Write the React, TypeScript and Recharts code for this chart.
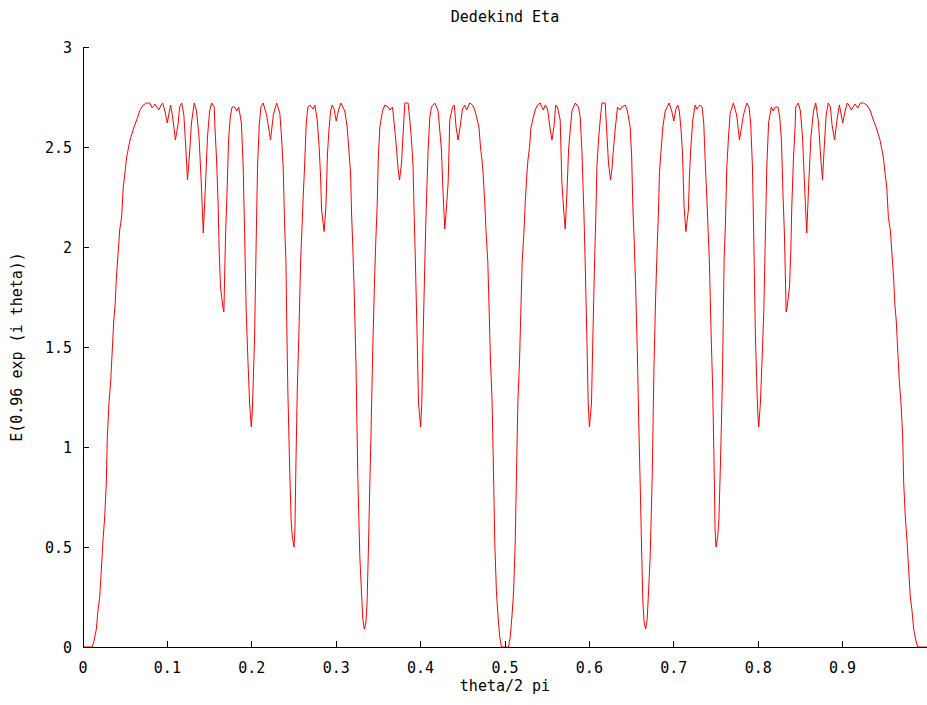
import React from 'react';
import { LineChart, Line, XAxis, YAxis } from 'recharts';

const chartTitle = 'Dedekind Eta';
const xAxisTitle = 'theta/2 pi';
const yAxisTitle = 'E(0.96 exp (i theta))';

const xTicks = [0, 0.1, 0.2, 0.3, 0.4, 0.5, 0.6, 0.7, 0.8, 0.9];
const yTicks = [0, 0.5, 1, 1.5, 2, 2.5, 3];

// theta / 2 pi, left half of the picture (0 .. 0.5)
const thetaLeft = [
  0, 0.006, 0.011, 0.013, 0.0158, 0.0178, 0.0198, 0.0217, 0.0237, 0.0257,
  0.0276, 0.0288, 0.0308, 0.0328, 0.0347, 0.0364, 0.0382, 0.0394, 0.0414, 0.0435,
  0.0458, 0.0477, 0.0497, 0.0517, 0.0557, 0.0596, 0.0636, 0.0675, 0.0714, 0.0754,
  0.079, 0.082, 0.0853, 0.0875, 0.0898, 0.0925, 0.0945, 0.097, 0.0999, 0.102,
  0.1038, 0.1062, 0.1095, 0.1125, 0.1145, 0.117, 0.1195, 0.1215, 0.1238, 0.126,
  0.1285, 0.1318, 0.1345, 0.1375, 0.14, 0.1425, 0.145, 0.1475, 0.15, 0.1524,
  0.1555, 0.1563, 0.1583, 0.1602, 0.1613, 0.1629, 0.1657, 0.1669, 0.1677, 0.1689,
  0.1705, 0.1725, 0.1745, 0.1766, 0.1798, 0.1822, 0.1845, 0.1877, 0.1898, 0.1914,
  0.1933, 0.1954, 0.1974, 0.1994, 0.2005, 0.2013, 0.2033, 0.2052, 0.2068, 0.2088,
  0.2108, 0.2135, 0.2175, 0.2222, 0.2255, 0.2294, 0.2332, 0.2352, 0.2372, 0.2388,
  0.2404, 0.2416, 0.2427, 0.2447, 0.2466, 0.248, 0.25, 0.2511, 0.2523, 0.2539,
  0.2558, 0.2579, 0.2597, 0.2609, 0.2625, 0.2645, 0.2665, 0.2688, 0.2727, 0.2747,
  0.2775, 0.2798, 0.2815, 0.2827, 0.2857, 0.2878, 0.2897, 0.2914, 0.2934, 0.2953,
  0.2975, 0.3, 0.3025, 0.3055, 0.3102, 0.313, 0.3153, 0.317, 0.3182, 0.3197,
  0.3215, 0.3235, 0.3256, 0.328, 0.33, 0.3315, 0.3333, 0.3351, 0.3366, 0.3381,
  0.3398, 0.3414, 0.3432, 0.3452, 0.3469, 0.3485, 0.3499, 0.3517, 0.3549, 0.3576,
  0.3615, 0.3636, 0.3667, 0.3695, 0.3715, 0.3734, 0.375, 0.3774, 0.3793, 0.3813,
  0.3852, 0.3872, 0.3892, 0.3911, 0.3923, 0.3937, 0.3959, 0.3975, 0.4, 0.4014,
  0.403, 0.405, 0.4065, 0.4089, 0.4109, 0.4129, 0.4168, 0.4207, 0.4227, 0.4247,
  0.4263, 0.4286, 0.4302, 0.4326, 0.4346, 0.4378, 0.4399, 0.442, 0.4444, 0.4468,
  0.4496, 0.4523, 0.4546, 0.4583, 0.4615, 0.4642, 0.4669, 0.4693, 0.4709, 0.4728,
  0.474, 0.476, 0.4776, 0.4796, 0.4811, 0.4828, 0.4847, 0.4862, 0.4879, 0.4899,
  0.4918, 0.4938, 0.4958, 0.5,
];

const etaLeft = [
  0, 0, 0, 0.03, 0.09, 0.185, 0.25, 0.385, 0.535, 0.65,
  0.82, 1.05, 1.22, 1.33, 1.485, 1.63, 1.72, 1.835, 1.96, 2.085,
  2.15, 2.3, 2.37, 2.45, 2.535, 2.59, 2.635, 2.685, 2.71, 2.72,
  2.72, 2.695, 2.715, 2.7, 2.685, 2.71, 2.72, 2.68, 2.62, 2.67,
  2.71, 2.65, 2.535, 2.61, 2.7, 2.72, 2.66, 2.52, 2.335, 2.45,
  2.62, 2.72, 2.68, 2.55, 2.33, 2.07, 2.3, 2.55, 2.68, 2.72,
  2.7, 2.6, 2.435, 2.2, 1.99, 1.8, 1.7, 1.675, 1.83, 2.06,
  2.25, 2.535, 2.65, 2.7, 2.7, 2.68, 2.7, 2.62, 2.4, 2.085,
  1.685, 1.435, 1.22, 1.1, 1.17, 1.27, 1.55, 2.035, 2.4, 2.61,
  2.7, 2.72, 2.66, 2.535, 2.66, 2.72, 2.67, 2.55, 2.4, 2.12,
  1.935, 1.57, 1.285, 0.92, 0.635, 0.55, 0.5, 0.585, 0.92, 1.285,
  1.57, 1.935, 2.12, 2.25, 2.4, 2.62, 2.7, 2.71, 2.69, 2.71,
  2.635, 2.5, 2.35, 2.185, 2.077, 2.2, 2.47, 2.585, 2.68, 2.71,
  2.69, 2.63, 2.68, 2.72, 2.68, 2.6, 2.47, 2.37, 2.17, 2.0,
  1.75, 1.4, 0.85, 0.45, 0.27, 0.14, 0.09, 0.12, 0.22, 0.48,
  0.81, 1.1, 1.47, 1.8, 2.03, 2.2, 2.45, 2.6, 2.68, 2.71,
  2.7, 2.685, 2.7, 2.585, 2.49, 2.385, 2.335, 2.42, 2.57, 2.72,
  2.72, 2.635, 2.535, 2.4, 2.17, 1.95, 1.55, 1.22, 1.1, 1.22,
  1.55, 1.92, 2.17, 2.485, 2.65, 2.7, 2.72, 2.68, 2.585, 2.485,
  2.3, 2.09, 2.17, 2.32, 2.635, 2.7, 2.71, 2.6, 2.535, 2.6,
  2.69, 2.71, 2.685, 2.72, 2.71, 2.685, 2.64, 2.595, 2.5, 2.435,
  2.37, 2.225, 2.07, 1.93, 1.7, 1.43, 1.23, 0.91, 0.52, 0.27,
  0.15, 0.05, 0, 0,
];

// right half of the picture (0.5 .. 1)
const thetaRight = [
  0.5042, 0.5062, 0.5082,
  0.5101, 0.5121, 0.5138, 0.5153, 0.5172, 0.5189, 0.5204, 0.5224, 0.524, 0.526,
  0.5272, 0.5291, 0.5307, 0.5331, 0.5358, 0.5385, 0.5417, 0.5454, 0.5477, 0.5504,
  0.5532, 0.5556, 0.558, 0.5601, 0.5622, 0.5654, 0.5674, 0.5698, 0.5714, 0.5737,
  0.5753, 0.5773, 0.5793, 0.5832, 0.5871, 0.5891, 0.5911, 0.5935, 0.595, 0.597,
  0.5986, 0.6, 0.6025, 0.6041, 0.6063, 0.6077, 0.6089, 0.6108, 0.6128, 0.6148,
  0.6187, 0.6207, 0.6226, 0.625, 0.6266, 0.6285, 0.6305, 0.6333, 0.6364, 0.6385,
  0.6424, 0.6451, 0.6483, 0.6501, 0.6515, 0.6531, 0.6548, 0.6568, 0.6586, 0.6602,
  0.6619, 0.6634, 0.6649, 0.6667, 0.6685, 0.67, 0.672, 0.6744, 0.6765, 0.6785,
  0.6803, 0.6818, 0.683, 0.6847, 0.687, 0.6898, 0.6945, 0.6975, 0.7, 0.7025,
  0.7047, 0.7066, 0.7086, 0.7103, 0.7122, 0.7143, 0.7173, 0.7185, 0.7202, 0.7225,
  0.7253, 0.7273, 0.7312, 0.7335, 0.7355, 0.7375, 0.7391, 0.7403, 0.7421, 0.7442,
  0.7461, 0.7477, 0.7489, 0.75, 0.752, 0.7534, 0.7553, 0.7573, 0.7584, 0.7596,
  0.7612, 0.7628, 0.7648, 0.7668, 0.7706, 0.7745, 0.7778, 0.7825, 0.7865, 0.7892,
  0.7912, 0.7932, 0.7948, 0.7967, 0.7987, 0.7995, 0.8006, 0.8026, 0.8046, 0.8067,
  0.8086, 0.8102, 0.8123, 0.8155, 0.8178, 0.8202, 0.8234, 0.8255, 0.8275, 0.8295,
  0.8311, 0.8323, 0.8331, 0.8343, 0.8371, 0.8387, 0.8398, 0.8417, 0.8437, 0.8445,
  0.8476, 0.85, 0.8525, 0.855, 0.8575, 0.86, 0.8625, 0.8655, 0.8682, 0.8715,
  0.874, 0.8762, 0.8785, 0.8805, 0.883, 0.8855, 0.8875, 0.8905, 0.8938, 0.8962,
  0.898, 0.9001, 0.903, 0.9055, 0.9075, 0.9102, 0.9125, 0.9147, 0.918, 0.921,
  0.9246, 0.9286, 0.9325, 0.9364, 0.9404, 0.9443, 0.9483, 0.9503, 0.9523, 0.9542,
  0.9565, 0.9586, 0.9606, 0.9618, 0.9636, 0.9653, 0.9672, 0.9692, 0.9712, 0.9724,
  0.9743, 0.9763, 0.9783, 0.9802, 0.9822, 0.9842, 0.987, 0.989, 0.994, 1,
];

const etaRight = [
  0, 0.05, 0.15,
  0.27, 0.52, 0.91, 1.23, 1.43, 1.7, 1.93, 2.07, 2.225, 2.37,
  2.435, 2.5, 2.595, 2.64, 2.685, 2.71, 2.72, 2.685, 2.71, 2.69,
  2.6, 2.535, 2.6, 2.71, 2.7, 2.635, 2.32, 2.17, 2.09, 2.3,
  2.485, 2.585, 2.68, 2.72, 2.7, 2.65, 2.485, 2.17, 1.92, 1.55,
  1.22, 1.1, 1.22, 1.55, 1.95, 2.17, 2.4, 2.535, 2.635, 2.72,
  2.72, 2.57, 2.42, 2.335, 2.385, 2.49, 2.585, 2.7, 2.685, 2.7,
  2.71, 2.68, 2.6, 2.45, 2.2, 2.03, 1.8, 1.47, 1.1, 0.81,
  0.48, 0.22, 0.12, 0.09, 0.14, 0.27, 0.45, 0.85, 1.4, 1.75,
  2.0, 2.17, 2.37, 2.47, 2.6, 2.68, 2.72, 2.68, 2.63, 2.69,
  2.71, 2.68, 2.585, 2.47, 2.2, 2.077, 2.185, 2.35, 2.5, 2.635,
  2.71, 2.69, 2.71, 2.7, 2.62, 2.4, 2.25, 2.12, 1.935, 1.57,
  1.285, 0.92, 0.585, 0.5, 0.55, 0.635, 0.92, 1.285, 1.57, 1.935,
  2.12, 2.4, 2.55, 2.67, 2.72, 2.66, 2.535, 2.66, 2.72, 2.7,
  2.61, 2.4, 2.035, 1.55, 1.27, 1.17, 1.1, 1.22, 1.435, 1.685,
  2.085, 2.4, 2.62, 2.7, 2.68, 2.7, 2.7, 2.65, 2.535, 2.25,
  2.06, 1.83, 1.675, 1.7, 1.8, 1.99, 2.2, 2.435, 2.6, 2.7,
  2.72, 2.68, 2.55, 2.3, 2.07, 2.33, 2.55, 2.68, 2.72, 2.62,
  2.45, 2.335, 2.52, 2.66, 2.72, 2.7, 2.61, 2.535, 2.65, 2.71,
  2.67, 2.62, 2.68, 2.72, 2.71, 2.685, 2.7, 2.715, 2.695, 2.72,
  2.72, 2.71, 2.685, 2.635, 2.59, 2.535, 2.45, 2.37, 2.3, 2.15,
  2.085, 1.96, 1.835, 1.72, 1.63, 1.485, 1.33, 1.22, 1.05, 0.82,
  0.65, 0.535, 0.385, 0.25, 0.185, 0.09, 0.03, 0, 0, 0,
];

const allTheta = [...thetaLeft, ...thetaRight];
const allEta = [...etaLeft, ...etaRight];
const data = allTheta.map((t, i) => ({ t, v: allEta[i] }));

// layout
const W = 927;
const H = 705;
const PLOT_LEFT = 83;
const PLOT_TOP = 47;
const PLOT_BOTTOM = 647;
const PLOT_RIGHT = 927;
const TICK = 6;
const FONT = '"DejaVu Sans Mono", "Liberation Mono", monospace';
const FONT_SIZE = 15;
const INK = '#000000';

const BottomTick = (props: any) => {
  const { x, payload } = props;
  return (
    <g>
      <line x1={x} x2={x} y1={PLOT_BOTTOM} y2={PLOT_BOTTOM - TICK} stroke={INK} strokeWidth={1} shapeRendering="crispEdges" />
      <text x={x} y={PLOT_BOTTOM + 26} textAnchor="middle" fontFamily={FONT} fontSize={FONT_SIZE} fill={INK}>
        {String(payload.value)}
      </text>
    </g>
  );
};

const TopTick = (props: any) => {
  const { x } = props;
  return <line x1={x} x2={x} y1={PLOT_TOP} y2={PLOT_TOP + TICK} stroke={INK} strokeWidth={1} shapeRendering="crispEdges" />;
};

const LeftTick = (props: any) => {
  const { y, payload } = props;
  return (
    <g>
      <line x1={PLOT_LEFT} x2={PLOT_LEFT + TICK} y1={y} y2={y} stroke={INK} strokeWidth={1} shapeRendering="crispEdges" />
      <text x={72} y={y + 5.5} textAnchor="end" fontFamily={FONT} fontSize={FONT_SIZE} fill={INK}>
        {String(payload.value)}
      </text>
    </g>
  );
};

const RightTick = (props: any) => {
  const { y } = props;
  return <line x1={PLOT_RIGHT} x2={PLOT_RIGHT - TICK} y1={y} y2={y} stroke={INK} strokeWidth={1} shapeRendering="crispEdges" />;
};

export default function App() {
  return (
    <div style={{ position: 'absolute', left: 0, top: 0, width: W, height: H, background: '#ffffff' }}>
      <LineChart
        width={W}
        height={H}
        data={data}
        margin={{ top: PLOT_TOP, right: 0, bottom: 0, left: 0 }}
      >
        <XAxis
          xAxisId="bottom"
          dataKey="t"
          type="number"
          domain={[0, 1]}
          ticks={xTicks}
          interval={0}
          height={H - PLOT_BOTTOM}
          tick={<BottomTick />}
          tickLine={false}
          axisLine={{ stroke: INK, strokeWidth: 1, shapeRendering: 'crispEdges' }}
          allowDataOverflow
        />
        <XAxis
          xAxisId="top"
          orientation="top"
          dataKey="t"
          type="number"
          domain={[0, 1]}
          ticks={xTicks}
          interval={0}
          height={0}
          tick={<TopTick />}
          tickLine={false}
          axisLine={{ stroke: INK, strokeWidth: 1, shapeRendering: 'crispEdges' }}
          allowDataOverflow
        />
        <YAxis
          yAxisId="left"
          type="number"
          domain={[0, 3]}
          ticks={yTicks}
          interval={0}
          width={PLOT_LEFT}
          tick={<LeftTick />}
          tickLine={false}
          axisLine={{ stroke: INK, strokeWidth: 1, shapeRendering: 'crispEdges' }}
          allowDataOverflow
        />
        <YAxis
          yAxisId="right"
          orientation="right"
          type="number"
          domain={[0, 3]}
          ticks={yTicks}
          interval={0}
          width={0}
          tick={<RightTick />}
          tickLine={false}
          axisLine={false}
          allowDataOverflow
        />
        <Line
          xAxisId="bottom"
          yAxisId="left"
          type="linear"
          dataKey="v"
          stroke="#ff0000"
          strokeWidth={1}
          dot={false}
          activeDot={false}
          isAnimationActive={false}
        />
      </LineChart>
      <svg
        width={W}
        height={H}
        style={{ position: 'absolute', left: 0, top: 0, pointerEvents: 'none' }}
      >
        <text x={505} y={22} textAnchor="middle" fontFamily={FONT} fontSize={FONT_SIZE} fill={INK}>
          {chartTitle}
        </text>
        <text x={505} y={691} textAnchor="middle" fontFamily={FONT} fontSize={FONT_SIZE} fill={INK}>
          {xAxisTitle}
        </text>
        <text
          x={22}
          y={347}
          textAnchor="middle"
          fontFamily={FONT}
          fontSize={FONT_SIZE}
          fill={INK}
          transform="rotate(-90 22 347)"
        >
          {yAxisTitle}
        </text>
      </svg>
    </div>
  );
}
